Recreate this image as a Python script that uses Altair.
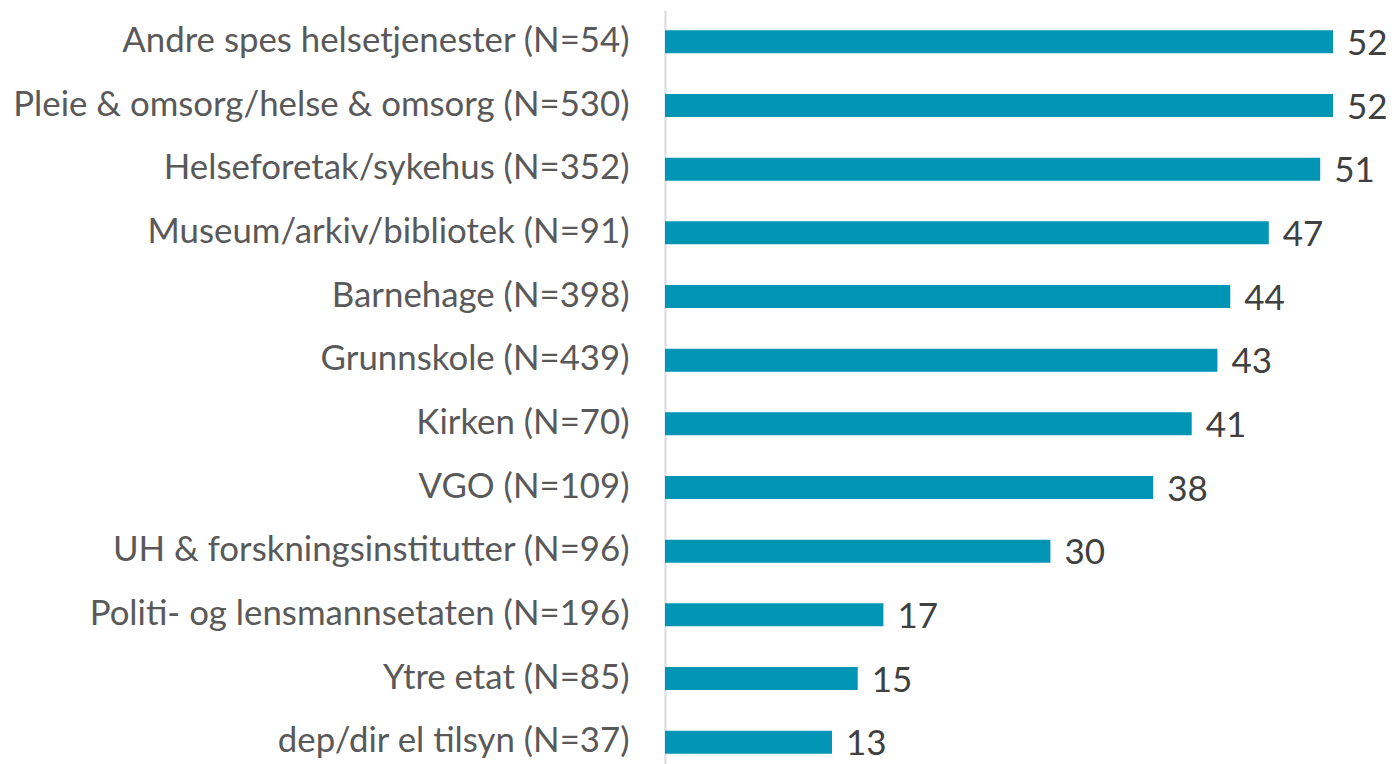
import altair as alt
import pandas as pd

categories = [
    "Andre spes helsetjenester (N=54)",
    "Pleie & omsorg/helse & omsorg (N=530)",
    "Helseforetak/sykehus (N=352)",
    "Museum/arkiv/bibliotek (N=91)",
    "Barnehage (N=398)",
    "Grunnskole (N=439)",
    "Kirken (N=70)",
    "VGO (N=109)",
    "UH & forskningsinstitutter (N=96)",
    "Politi- og lensmannsetaten (N=196)",
    "Ytre etat (N=85)",
    "dep/dir el tilsyn (N=37)",
]
values = [52, 52, 51, 47, 44, 43, 41, 38, 30, 17, 15, 13]

df = pd.DataFrame({"cat": categories, "val": values})

FONT = "Lato"

y = alt.Y(
    "cat:N",
    sort=categories,
    title=None,
    scale=alt.Scale(paddingInner=0.64, paddingOuter=0.32),
    axis=alt.Axis(
        labelFont=FONT,
        labelFontSize=34.8,
        labelColor="#595959",
        labelPadding=36,
        ticks=False,
        domainColor="#d9d9d9",
        domainWidth=2,
        labelLimit=700,
        grid=False,
    ),
)
x = alt.X("val:Q", title=None, scale=alt.Scale(domain=[0, 55.5]), axis=None)

bars = alt.Chart(df).mark_bar(color="#0095B5").encode(x=x, y=y)
labels = alt.Chart(df).mark_text(
    align="left", baseline="middle", dx=14, dy=2, font=FONT, fontSize=35, color="#404040"
).encode(x=x, y=y, text="val:Q")

chart = (
    (bars + labels)
    .properties(
        width=713,
        height=764,
        autosize=alt.AutoSizeParams(type="none"),
        padding={"left": 657, "top": 2, "right": 10, "bottom": 0},
    )
    .configure_view(stroke=None)
)
chart.save("out.html", embed_options={"renderer": "svg", "actions": False})
